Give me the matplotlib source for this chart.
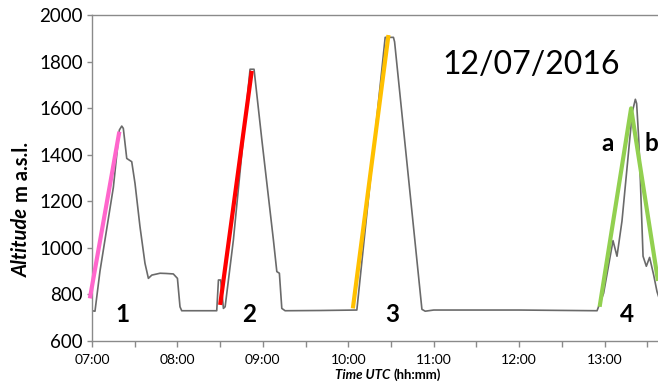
import matplotlib
matplotlib.use("Agg")
import matplotlib.pyplot as plt
from matplotlib.ticker import FixedLocator

plt.rcParams['font.family'] = ['Lato', 'DejaVu Sans']

# ---- data (time in minutes after 07:00 UTC, altitude in m a.s.l.) ----
trace_min = [0, 2.1, 5.6, 15, 19.2, 20.9, 22, 24.4, 27.9, 30.2, 33.7, 37.2, 39.6,
             42, 47.8, 52, 57.1, 60, 61.8, 63, 87.6, 88.8, 90.4, 92.3, 93.5, 99.3,
             111, 113.8, 119.3, 127.4, 129.8, 131.6, 133.3, 135.6, 160, 186,
             205.9, 211.7, 212.5, 231.7, 234, 240, 300, 354.7, 359.3, 365.9,
             368.7, 372.2, 379.5, 381.6, 382.5, 384, 385.1, 387, 389.3, 391.6,
             394.4, 396.8, 398.5]
trace_alt = [730, 728, 900, 1260, 1506, 1523, 1513, 1384, 1370, 1277, 1091, 934, 869,
             883, 891, 890, 888, 869, 747, 730, 730, 862, 862, 740, 747, 1034,
             1767, 1767, 1463, 1034, 898, 891, 740, 730, 731, 733,
             1904, 1904, 1885, 736, 728, 733, 733, 730, 805, 1031,
             964, 1115, 1585, 1638, 1620, 1463, 1291, 964, 921, 959,
             885, 812, 780]

fit1_min = [-1.5, 19.2]
fit1_alt = [783, 1499]
fit2_min = [90, 112.2]
fit2_alt = [755, 1760]
fit3_min = [183.2, 208.2]
fit3_alt = [740, 1914]
fit4_min = [356.5, 378.6, 397.5]
fit4_alt = [747, 1599, 858]

fit_colors = ['#FF66CC', '#FF0000', '#FFC000', '#92D050']

labels_txt = ['1', '2', '3', '4', 'a', 'b']
labels_min = [21.4, 110.3, 210.5, 375.6, 362.4, 392.8]
labels_alt = [682, 682, 682, 682, 1416, 1416]

xtick_min = [0, 60, 120, 180, 240, 300, 360]
xtick_labels = ['07:00', '08:00', '09:00', '10:00', '11:00', '12:00', '13:00']
xminor_min = [30, 90, 150, 210, 270, 330, 390]
ytick_vals = [600, 800, 1000, 1200, 1400, 1600, 1800, 2000]
date_text = '12/07/2016'

# ---- figure ----
fig = plt.figure(figsize=(6.58, 3.86), dpi=100)
ax = fig.add_axes([92/658, 1-341/386, 1-92/658, (341-15)/386])

ax.plot(trace_min, trace_alt, color='#6a6a6a', lw=1.2, zorder=2)
ax.plot(fit1_min, fit1_alt, color=fit_colors[0], lw=3.0, zorder=3, clip_on=False,
        solid_capstyle='butt')
ax.plot(fit2_min, fit2_alt, color=fit_colors[1], lw=3.0, zorder=3, solid_capstyle='butt')
ax.plot(fit3_min, fit3_alt, color=fit_colors[2], lw=3.0, zorder=3, solid_capstyle='butt')
ax.plot(fit4_min, fit4_alt, color=fit_colors[3], lw=3.0, zorder=3, solid_capstyle='butt')

for t, x, y in zip(labels_txt, labels_min, labels_alt):
    ax.text(x, y, t, ha='center', va='baseline', fontsize=17.5, fontweight='bold',
            color='black')

ax.text(308.5, 1746, date_text, ha='center', va='baseline', fontsize=23, color='black')

ax.set_xlim(0, 397.5)
ax.set_ylim(600, 2000)
ax.xaxis.set_major_locator(FixedLocator(xtick_min))
ax.xaxis.set_minor_locator(FixedLocator(xminor_min))
ax.set_xticklabels(xtick_labels)
ax.set_yticks(ytick_vals)

spine_col = '#8a8a8a'
for s in ['left', 'bottom', 'top']:
    ax.spines[s].set_color(spine_col)
    ax.spines[s].set_linewidth(1.0)
ax.spines['right'].set_visible(False)

ax.tick_params(axis='y', which='major', length=3.5, width=1.0, color=spine_col,
               labelsize=13.5, pad=3)
ax.tick_params(axis='x', which='major', length=4, width=1.0, color=spine_col,
               labelsize=10, pad=5)
ax.tick_params(axis='x', which='minor', length=4, width=1.0, color=spine_col)

# y label: bold italic "Altitude" + bold " m a.s.l."
t1 = fig.text(22/658, 1-277/386, 'Altitude', rotation=90, ha='center', va='bottom',
              fontsize=14.5, fontweight='bold', fontstyle='italic')
ax.annotate('m a.s.l.', xy=(0.5, 1), xycoords=t1, xytext=(0, 4),
            textcoords='offset points', rotation=90, ha='center', va='bottom',
            fontsize=14.5, fontweight='bold', annotation_clip=False)

# x label: bold italic "Time UTC" + bold " (hh:mm)"
t2 = fig.text(335/658, 1-379/386, 'Time UTC', ha='left', va='baseline',
              fontsize=9.5, fontweight='bold', fontstyle='italic')
ax.annotate('(hh:mm)', xy=(1, 0), xycoords=t2, xytext=(2.5, 0),
            textcoords='offset points', ha='left', va='bottom',
            fontsize=9.5, fontweight='bold', annotation_clip=False)

fig.savefig('out.png', dpi=100)
